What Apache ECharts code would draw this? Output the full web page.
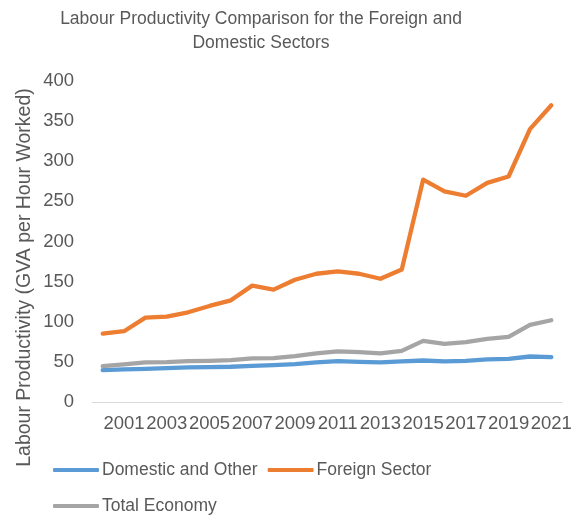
<!DOCTYPE html>
<html>
<head>
<meta charset="utf-8">
<script src="https://cdn.jsdelivr.net/npm/echarts@6/dist/echarts.min.js"></script>
<style>html,body{margin:0;padding:0;background:#fff}#c{width:579px;height:518px}</style>
</head>
<body>
<div id="c"></div>
<script>
var years = ['2000','2001','2002','2003','2004','2005','2006','2007','2008','2009','2010','2011','2012','2013','2014','2015','2016','2017','2018','2019','2020','2021'];
var domestic = [39.8,40.6,41.4,42.2,43.1,43.5,43.9,45.1,46.0,47.2,49.3,50.9,50.1,49.3,50.5,51.7,50.5,51.3,53.0,53.8,56.7,55.9];
var foreign = [85.3,88.2,105.2,106.4,111.8,119.7,126.7,145.0,140.0,152.4,159.8,162.7,159.8,153.6,165.2,277.0,262.5,257.0,273.0,281.0,340.0,369.8];
var total = [44.7,46.8,49.3,49.7,50.9,51.3,52.2,54.3,54.7,57.1,60.5,63.0,62.1,60.5,63.7,76.2,72.4,74.5,78.7,81.2,96.0,101.9];
var yTicks = [0,50,100,150,200,250,300,350,400];

var font = 'Liberation Sans, Arial, sans-serif';
var txt = '#595959';
var chart = echarts.init(document.getElementById('c'), null, {renderer:'canvas'});
function mk(name, data, color){
  return {name:name, type:'line', data:data, symbol:'none', smooth:false,
    lineStyle:{width:4.3, color:color, cap:'round', join:'round'}, itemStyle:{color:color}};
}
chart.setOption({
  animation:false,
  title:{text:'Labour Productivity Comparison for the Foreign and\nDomestic Sectors', left:256, top:2, textAlign:'center',
    textStyle:{fontFamily:font, fontSize:17.5, fontWeight:'normal', color:txt, lineHeight:24}},
  grid:{left:92, right:17, top:81, bottom:116, outerBoundsMode:'none'},
  xAxis:{type:'category', data:years, boundaryGap:true,
    axisLine:{lineStyle:{color:'#D9D9D9', width:1}}, axisTick:{show:false},
    axisLabel:{interval:function(i){return i%2===1;}, color:txt, fontFamily:font, fontSize:18.5, margin:12, hideOverlap:false}},
  yAxis:{type:'value', min:yTicks[0], max:yTicks[yTicks.length-1], interval:50,
    name:'Labour Productivity (GVA per Hour Worked)', nameLocation:'middle', nameGap:57, nameMoveOverlap:false,
    nameTextStyle:{fontFamily:font, fontSize:19.5, color:txt, padding:[0,72,0,0]},
    axisLine:{show:false}, axisTick:{show:false}, splitLine:{show:false},
    axisLabel:{color:txt, fontFamily:font, fontSize:18.5, margin:18}},
  legend:{left:48, top:452, width:440, itemWidth:46, itemHeight:4, itemGap:10,
    icon:'roundRect',
    textStyle:{fontFamily:font, fontSize:17.5, color:txt, lineHeight:26, padding:[0,0,0,-2]},
    data:['Domestic and Other','Foreign Sector','Total Economy']},
  series:[mk('Domestic and Other', domestic, '#5B9BD5'), mk('Foreign Sector', foreign, '#ED7D31'), mk('Total Economy', total, '#A5A5A5')]
});
</script>
</body>
</html>
